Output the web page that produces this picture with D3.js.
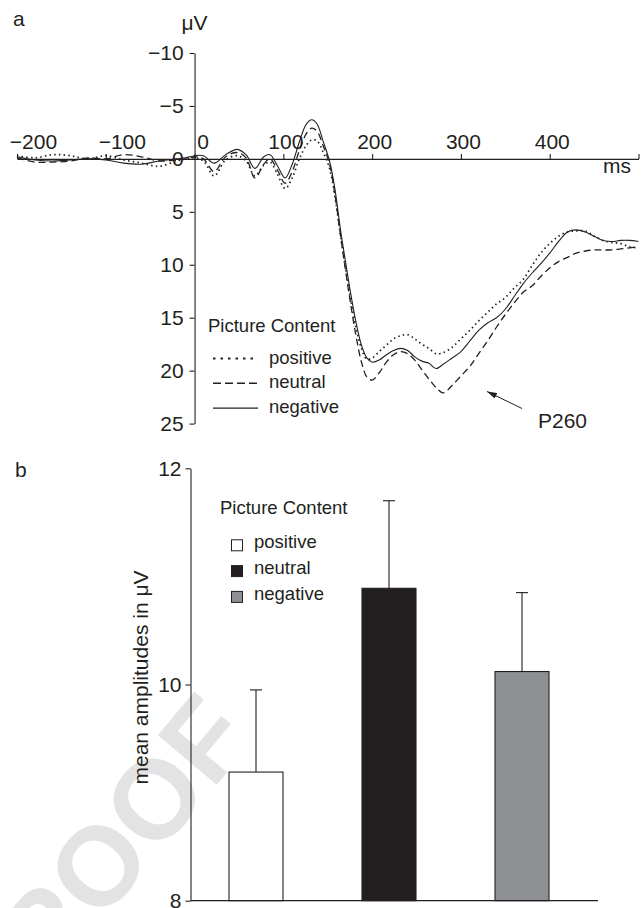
<!DOCTYPE html>
<html>
<head>
<meta charset="utf-8">
<title>ERP waveforms and P260 mean amplitudes</title>
<script src="https://cdn.jsdelivr.net/npm/d3@7"></script>
<style>
  body { margin: 0; background: #fff; }
  svg { display: block; font-family: "Liberation Sans", Arial, Helvetica, sans-serif; }
</style>
</head>
<body>
<script>
var W = 644, H = 908;
var ink = "#231f20";

// panel a: grand average waveforms, time in ms, amplitude in µV (positive down)
var times = [-200,-180,-160,-140,-120,-100,-80,-60,-40,-20,-10,0,10,22,35,48,58,68,78,85,93,102,110,118,126,132,138,145,152,158,164,170,176,182,188,194,200,208,216,224,232,240,248,256,264,272,280,290,300,310,320,330,340,350,360,370,380,390,400,410,420,430,440,450,460,470,480,490,500];
var positive = [-0.3,-0.1,-0.4,-0.3,0.0,-0.3,0.1,0.4,0.7,0.2,0.0,-0.1,0.2,1.6,0.1,-0.3,0.2,1.6,0.6,0.3,1.4,2.8,1.8,0.0,-1.3,-1.8,-1.7,-0.6,0.9,3.5,7.0,10.3,13.3,16.0,17.9,18.9,18.8,18.2,17.6,17.0,16.7,16.6,17.0,17.5,17.9,18.4,18.3,17.8,17.0,16.2,15.3,14.5,13.7,13.1,12.2,11.4,10.1,8.9,8.0,7.3,6.9,6.8,6.8,7.3,7.7,7.9,8.0,8.3,8.4];
var neutral = [-0.1,0.3,0.3,0.2,-0.1,0.0,-0.4,-0.2,0.2,0.1,0.0,-0.2,0.0,1.2,-0.2,-0.6,-0.1,1.8,0.5,0.0,1.0,2.3,1.2,-0.8,-2.4,-2.9,-2.6,-1.2,0.5,3.3,7.0,10.5,13.8,16.8,19.2,20.6,20.9,20.2,19.2,18.5,18.2,18.4,19.0,19.9,20.8,21.6,22.1,21.4,20.5,19.6,18.4,17.2,15.9,14.7,13.6,12.6,12.0,11.1,10.3,9.7,9.3,8.9,8.7,8.6,8.6,8.6,8.5,8.4,8.3];
var negative = [-0.2,0.1,0.2,0.1,0.0,0.1,0.4,0.5,0.2,0.0,-0.1,-0.3,-0.3,0.4,-0.4,-0.9,-0.4,0.9,-0.2,-0.4,0.6,1.8,0.5,-1.6,-3.3,-3.7,-3.3,-1.6,0.2,2.8,6.5,9.7,12.8,15.5,17.6,18.8,19.2,19.0,18.5,18.1,17.9,18.1,18.7,19.1,19.3,19.8,19.4,18.8,18.2,17.2,16.2,15.5,15.0,14.2,13.0,11.8,10.8,9.9,8.9,7.8,6.9,6.7,6.9,7.3,7.7,7.8,7.7,7.7,7.8];
var xTicks = [-200,-100,0,100,200,300,400,500];
var yTicks = [-10,-5,0,5,10,15,20,25];

// panel b: mean amplitudes with upper error bars
var categories = ["positive","neutral","negative"];
var means = [9.19, 10.89, 10.12];
var upperErr = [9.95, 11.70, 10.85];
var barTicks = [8,10,12];
var barFill = ["#ffffff", "#231f20", "#8e8f93"];

var svg = d3.select("body").append("svg")
    .attr("width", W)
    .attr("height", H);

function fmt(d) { return d < 0 ? "\u2212" + (-d) : String(d); }

// watermark behind everything
svg.append("text")
    .attr("transform", "translate(256,738) rotate(-50)")
    .attr("text-anchor", "end")
    .attr("font-weight", "bold")
    .attr("font-size", 112)
    .attr("fill", "#e3e3e3")
    .text("PROOF");

// ---------- panel a ----------
var x = d3.scaleLinear().domain([-200, 500]).range([17, 638.5]);
var y = d3.scaleLinear().domain([-10, 25]).range([53, 423.6]);

var gx = svg.append("g")
    .attr("transform", "translate(0," + y(0) + ")")
    .call(d3.axisTop(x).tickValues(xTicks).tickSize(5).tickSizeOuter(0).tickPadding(5).tickFormat(fmt));
gx.selectAll("text")
    .attr("dx", function(d) { return d < 0 ? 16 : d === 0 ? 8 : 2; })
    .text(function(d) { return d === 500 ? "" : fmt(d); });

var gy = svg.append("g")
    .attr("transform", "translate(" + x(0) + ",0)")
    .call(d3.axisLeft(y).tickValues(yTicks).tickSize(5).tickSizeOuter(0).tickPadding(6).tickFormat(fmt));

[gx, gy].forEach(function(g) {
    g.attr("font-family", null).attr("font-size", 21);
    g.selectAll("path, line").attr("stroke", ink).attr("stroke-width", 1.1);
    g.selectAll("text").attr("fill", ink);
});

svg.append("text").attr("x", x(0)).attr("y", 30).attr("text-anchor", "middle")
    .attr("font-size", 21).attr("fill", ink).text("\u03bcV");
svg.append("text").attr("x", 603).attr("y", 173)
    .attr("font-size", 21).attr("fill", ink).text("ms");
svg.append("text").attr("x", 13).attr("y", 26)
    .attr("font-size", 21).attr("fill", ink).text("a");

var series = [
    { name: "positive", values: positive, dash: "1.5,3.2", w: 1.7, legendDash: "2.5,5", legendW: 2.2 },
    { name: "neutral", values: neutral, dash: "7,4", w: 1.3, legendDash: "8,4", legendW: 1.4 },
    { name: "negative", values: negative, dash: null, w: 1.1, legendDash: null, legendW: 1.2 }
];

var line = d3.line()
    .x(function(d, i) { return x(times[i]); })
    .y(function(d) { return y(d); })
    .curve(d3.curveCatmullRom.alpha(0.5));

svg.selectAll("path.erp")
    .data(series)
    .enter()
    .append("path")
    .attr("class", "erp")
    .attr("d", function(s) { return line(s.values); })
    .attr("fill", "none")
    .attr("stroke", ink)
    .attr("stroke-width", function(s) { return s.w; })
    .attr("stroke-dasharray", function(s) { return s.dash; });

// legend a
svg.append("text").attr("x", 208).attr("y", 332)
    .attr("font-size", 18.5).attr("fill", ink).text("Picture Content");
var legA = svg.selectAll("g.lega")
    .data(series)
    .enter()
    .append("g")
    .attr("class", "lega")
    .attr("transform", function(s, i) { return "translate(0," + (363.5 + i * 24.8) + ")"; });
legA.append("line")
    .attr("x1", 213).attr("x2", 258).attr("y1", -5).attr("y2", -5)
    .attr("stroke", ink)
    .attr("stroke-width", function(s) { return s.legendW; })
    .attr("stroke-dasharray", function(s) { return s.legendDash; });
legA.append("text")
    .attr("x", 269)
    .attr("font-size", 18.5)
    .attr("fill", ink)
    .text(function(s) { return s.name; });

// P260 annotation
svg.append("defs").append("marker")
    .attr("id", "arrow")
    .attr("viewBox", "0 0 10 6")
    .attr("refX", 10).attr("refY", 3)
    .attr("markerWidth", 10).attr("markerHeight", 6)
    .attr("markerUnits", "userSpaceOnUse")
    .attr("orient", "auto")
    .append("path")
    .attr("d", "M0,0 L10,3 L0,6 Z")
    .attr("fill", ink);
svg.append("line")
    .attr("x1", 522).attr("y1", 408.5).attr("x2", 487).attr("y2", 391.5)
    .attr("stroke", ink).attr("stroke-width", 1)
    .attr("marker-end", "url(#arrow)");
svg.append("text").attr("x", 538).attr("y", 428)
    .attr("font-size", 21).attr("fill", ink).text("P260");

// ---------- panel b ----------
var yb = d3.scaleLinear().domain([8, 12]).range([900.7, 468.3]);
var xb = d3.scaleBand().domain(categories).range([189.5, 588.5])
    .paddingInner(0.594).paddingOuter(0.297);

svg.append("text").attr("x", 15).attr("y", 477)
    .attr("font-size", 21).attr("fill", ink).text("b");

var bars = svg.selectAll("g.bar")
    .data(categories)
    .enter()
    .append("g")
    .attr("class", "bar");
bars.append("line")
    .attr("x1", function(c) { return xb(c) + xb.bandwidth() / 2; })
    .attr("x2", function(c) { return xb(c) + xb.bandwidth() / 2; })
    .attr("y1", function(c, i) { return yb(means[i]); })
    .attr("y2", function(c, i) { return yb(upperErr[i]); })
    .attr("stroke", ink).attr("stroke-width", 1.1);
bars.append("line")
    .attr("x1", function(c) { return xb(c) + xb.bandwidth() / 2 - 6; })
    .attr("x2", function(c) { return xb(c) + xb.bandwidth() / 2 + 6; })
    .attr("y1", function(c, i) { return yb(upperErr[i]); })
    .attr("y2", function(c, i) { return yb(upperErr[i]); })
    .attr("stroke", ink).attr("stroke-width", 1.1);
bars.append("rect")
    .attr("x", function(c) { return xb(c); })
    .attr("width", xb.bandwidth())
    .attr("y", function(c, i) { return yb(means[i]); })
    .attr("height", function(c, i) { return yb(8) - yb(means[i]); })
    .attr("fill", function(c, i) { return barFill[i]; })
    .attr("stroke", ink).attr("stroke-width", 1.1);

var gyb = svg.append("g")
    .attr("transform", "translate(190.5,0)")
    .call(d3.axisLeft(yb).tickValues(barTicks).tickSize(5).tickSizeOuter(0).tickPadding(4).tickFormat(d3.format("d")));
gyb.attr("font-family", null).attr("font-size", 21);
gyb.selectAll("path, line").attr("stroke", ink).attr("stroke-width", 1.1);
gyb.selectAll("text").attr("fill", ink);

svg.append("line")
    .attr("x1", 190.5).attr("x2", 598)
    .attr("y1", yb(8)).attr("y2", yb(8))
    .attr("stroke", ink).attr("stroke-width", 1.2);

svg.append("text")
    .attr("transform", "translate(148,677.5) rotate(-90)")
    .attr("text-anchor", "middle")
    .attr("font-size", 21).attr("fill", ink)
    .text("mean amplitudes in \u03bcV");

// legend b
svg.append("text").attr("x", 220).attr("y", 514)
    .attr("font-size", 18.5).attr("fill", ink).text("Picture Content");
var legB = svg.selectAll("g.legb")
    .data(categories)
    .enter()
    .append("g")
    .attr("class", "legb")
    .attr("transform", function(c, i) { return "translate(0," + (548.3 + i * 25.8) + ")"; });
legB.append("rect")
    .attr("x", 231.5).attr("y", -8.5).attr("width", 11).attr("height", 11)
    .attr("fill", function(c, i) { return barFill[i]; })
    .attr("stroke", ink).attr("stroke-width", 1);
legB.append("text")
    .attr("x", 254)
    .attr("font-size", 18.5)
    .attr("fill", ink)
    .text(function(c) { return c; });
</script>
</body>
</html>
